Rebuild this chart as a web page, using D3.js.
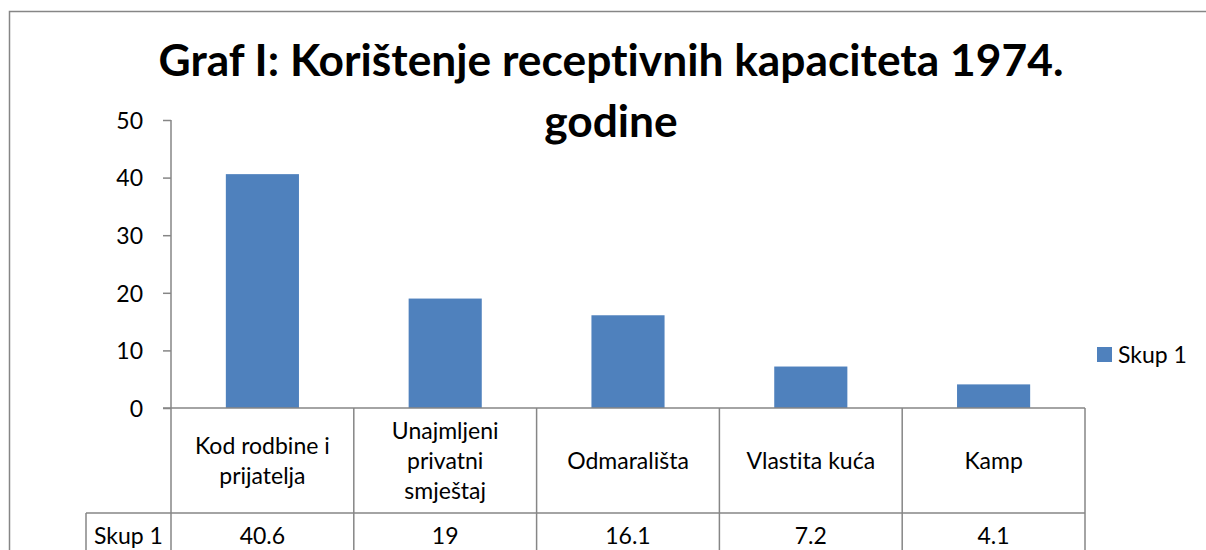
<!DOCTYPE html>
<html>
<head>
<meta charset="utf-8">
<script src="https://cdn.jsdelivr.net/npm/d3@7"></script>
<style>
    body { margin: 0; background: #fff; }
    text { font-family: Lato, "Open Sans", sans-serif; fill: #000; font-variant-ligatures: none; }
</style>
</head>
<body>
<div id="chart"></div>
<script>
// data
var titleLines = ["Graf I: Korištenje receptivnih kapaciteta 1974.", "godine"];
var categories = ["Kod rodbine i prijatelja", "Unajmljeni privatni smještaj", "Odmarališta", "Vlastita kuća", "Kamp"];
var categoryLines = [["Kod rodbine i", "prijatelja"], ["Unajmljeni", "privatni", "smještaj"], ["Odmarališta"], ["Vlastita kuća"], ["Kamp"]];
var seriesName = "Skup 1";
var values = [40.6, 19, 16.1, 7.2, 4.1];
var valueLabels = ["40.6", "19", "16.1", "7.2", "4.1"];
var yTicks = [0, 10, 20, 30, 40, 50];

var W = 1206, H = 550;
var gridColor = "#868686";
var barColor = "#4F81BD";
var fontSize = "23px";

var svg = d3.select("#chart").append("svg")
    .attr("width", W)
    .attr("height", H)

// outer frame (runs off the right / bottom edge)
svg.append("rect")
    .attr("x", 9.5)
    .attr("y", 11.5)
    .attr("width", W + 20)
    .attr("height", H + 20)
    .attr("fill", "none")
    .attr("stroke", gridColor)
    .attr("stroke-width", 1.5)

var left = 171, right = 1085, top0 = 120, base = 408;
var rowSplit = 513;

var x = d3.scaleBand()
    .domain(categories)
    .range([left, right])
    .paddingInner(0)
    .paddingOuter(0)

var y = d3.scaleLinear()
    .domain([0, 50])
    .range([base, top0])

// title
var title = svg.append("g").attr("class", "title")
var t1 = title.append("text")
    .attr("x", 611)
    .attr("y", 76)
    .attr("text-anchor", "middle")
    .style("font-weight", "bold")
    .style("font-size", "42px")
    .text(titleLines[0])
var w1 = t1.node().getComputedTextLength();
var fs = 42 * 905 / w1;
t1.style("font-size", fs + "px")
title.append("text")
    .attr("x", 611)
    .attr("y", 137)
    .attr("text-anchor", "middle")
    .style("font-weight", "bold")
    .style("font-size", fs + "px")
    .text(titleLines[1])

// y axis
var yAxis = d3.axisLeft(y).tickValues(yTicks).tickSize(8).tickPadding(20);
var gy = svg.append("g")
    .attr("class", "y-axis")
    .attr("transform", "translate(" + left + ",0)")
    .call(yAxis)
gy.select(".domain").remove();
gy.selectAll(".tick line").attr("stroke", gridColor).attr("stroke-width", 1.5);
gy.selectAll(".tick text")
    .style("font-size", fontSize)
    .style("font-family", "Lato, sans-serif")
    .attr("fill", "#000")
    .attr("dy", "0.36em")
gy.append("line")
    .attr("x1", 0).attr("x2", 0)
    .attr("y1", y(50)).attr("y2", H)
    .attr("stroke", gridColor)
    .attr("stroke-width", 1.5)

// bars
var bw = x.bandwidth() / 2.5;
svg.selectAll("rect.bar")
    .data(values)
    .enter()
    .append("rect")
    .attr("class", "bar")
    .attr("x", function (d, i) {
        return x(categories[i]) + (x.bandwidth() - bw) / 2;
    })
    .attr("y", function (d) { return y(d); })
    .attr("width", bw)
    .attr("height", function (d) { return y(0) - y(d); })
    .attr("fill", barColor)

// data table
var table = svg.append("g").attr("class", "table")
table.append("line")
    .attr("x1", left - 8).attr("x2", right)
    .attr("y1", base).attr("y2", base)
    .attr("stroke", gridColor).attr("stroke-width", 1.5)
table.append("line")
    .attr("x1", 86).attr("x2", right)
    .attr("y1", rowSplit).attr("y2", rowSplit)
    .attr("stroke", gridColor).attr("stroke-width", 1.5)
table.append("line")
    .attr("x1", 86).attr("x2", 86)
    .attr("y1", rowSplit).attr("y2", H)
    .attr("stroke", gridColor).attr("stroke-width", 1.5)
table.selectAll("line.sep")
    .data(categories)
    .enter()
    .append("line")
    .attr("class", "sep")
    .attr("x1", function (d) { return x(d) + x.bandwidth(); })
    .attr("x2", function (d) { return x(d) + x.bandwidth(); })
    .attr("y1", base).attr("y2", H)
    .attr("stroke", gridColor).attr("stroke-width", 1.5)

var cellMid = (base + rowSplit) / 2;
categories.forEach(function (c, i) {
    var lines = categoryLines[i];
    var cx = x(c) + x.bandwidth() / 2;
    lines.forEach(function (ln, j) {
        table.append("text")
            .attr("x", cx)
            .attr("y", cellMid + (j - (lines.length - 1) / 2) * 30 + 8)
            .attr("text-anchor", "middle")
            .style("font-size", fontSize)
            .text(ln)
    })
    table.append("text")
        .attr("x", cx)
        .attr("y", 544)
        .attr("text-anchor", "middle")
        .style("font-size", fontSize)
        .text(valueLabels[i])
})
table.append("text")
    .attr("x", (86 + left) / 2)
    .attr("y", 544)
    .attr("text-anchor", "middle")
    .style("font-size", fontSize)
    .text(seriesName)

// legend
var legend = svg.append("g").attr("class", "legend")
legend.append("rect")
    .attr("x", 1097).attr("y", 347)
    .attr("width", 15).attr("height", 15)
    .attr("fill", barColor)
legend.append("text")
    .attr("x", 1118).attr("y", 363)
    .style("font-size", fontSize)
    .text(seriesName)
</script>
</body>
</html>
